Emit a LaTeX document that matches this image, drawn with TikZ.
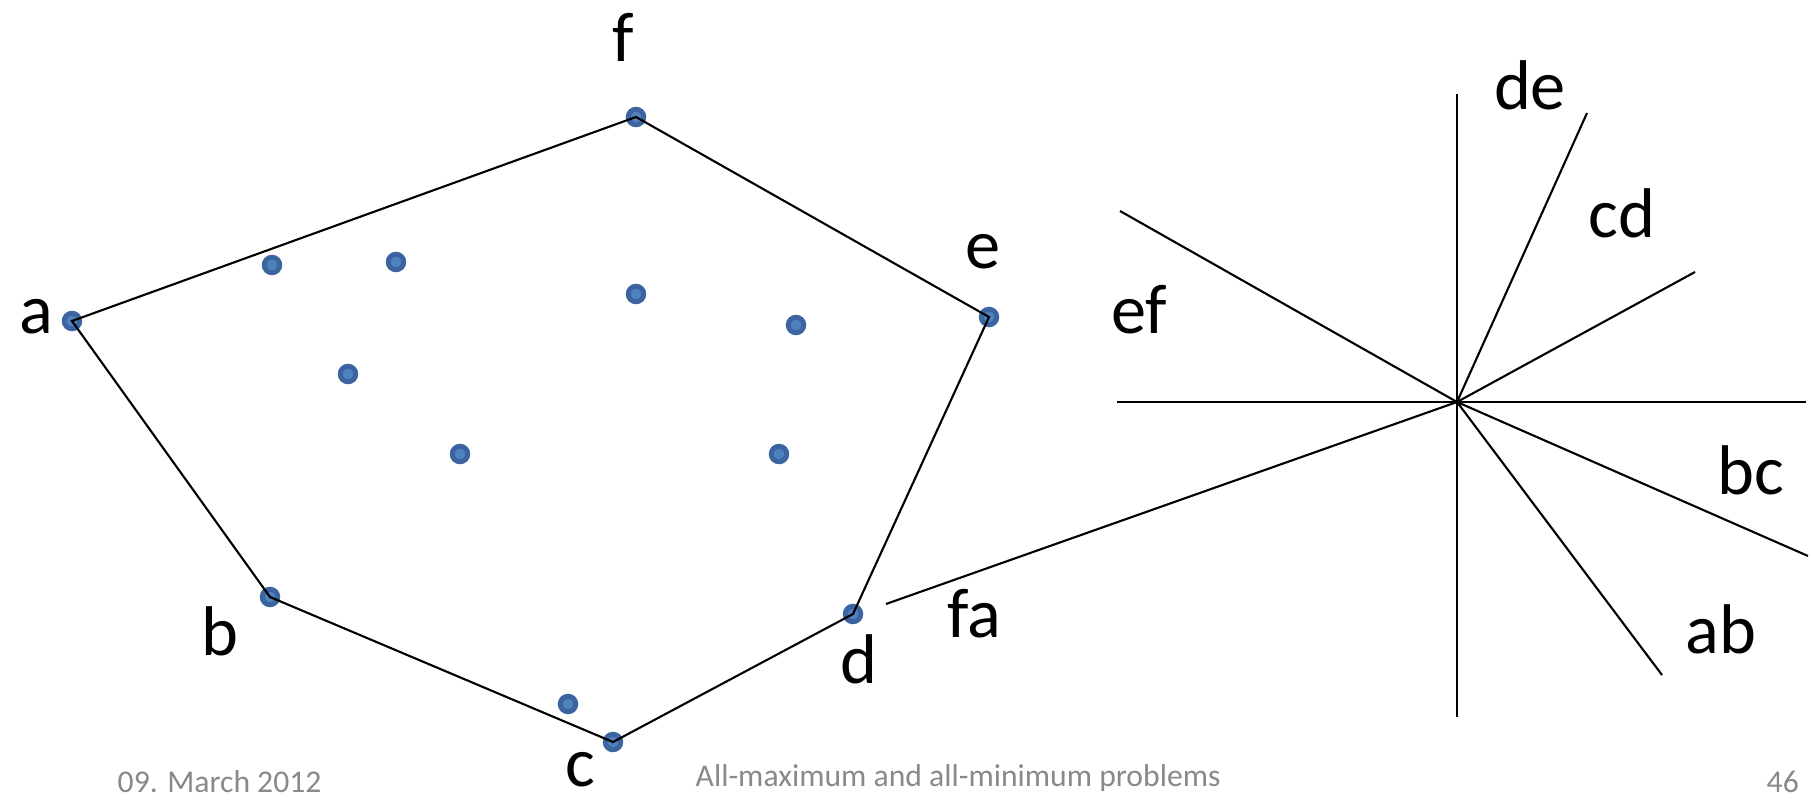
\documentclass[tikz,border=0pt]{standalone}
\usepackage{fontspec}
\setmainfont{Carlito}
\usetikzlibrary{positioning}
\definecolor{dotblue}{HTML}{4F81BD}
\definecolor{dotrim}{HTML}{3B64A0}
\definecolor{footgray}{HTML}{898989}

\begin{document}
\begin{tikzpicture}[x=0.01cm,y=-0.01cm,
  pt/.style={circle,fill=dotblue,draw=dotrim,line width=1.4pt,inner sep=0pt,minimum size=0.155cm},
  seg/.style={line width=0.6pt},
  lbl/.style={font=\fontsize{20}{24}\selectfont,anchor=base,inner sep=0pt},
  foot/.style={font=\fontsize{9}{11}\selectfont,text=footgray,anchor=base west,inner sep=0pt}]
  \useasboundingbox (0,0) rectangle (1812,800);
  % hull points and inner points
  \foreach \n/\x/\y in {a/72/321, b/270/597, c/613/742, d/853/614, e/989/317, f/636/117}
    \node[pt] (\n) at (\x,\y) {};
  \foreach \x/\y [count=\i] in {272/265, 396/262, 636/294, 796/325, 348/374, 460/454, 779/454, 568/704}
    \node[pt] (p\i) at (\x,\y) {};
  \draw[seg] (a.center) -- (f.center) -- (e.center) -- (d.center) -- (c.center) -- (b.center) -- cycle;
  % edge directions
  \coordinate (o) at (1457,402);
  \coordinate (vt) at (1457,94);
  \coordinate (vb) at (1457,717);
  \coordinate (hl) at (1117,402);
  \coordinate (hr) at (1806,402);
  \draw[seg] (vt) -- (vb);
  \draw[seg] (hl) -- (hr);
  \foreach \n/\x/\y in {ab/1662/675, bc/1808/556, cd/1695/272, de/1587/113, ef/1120/211, fa/886/604} {
    \coordinate (r\n) at (\x,\y);
    \draw[seg] (o) -- (r\n);
  }
  % labels
  \foreach \n/\x/\y in {f/623/61, a/36/333, e/983/268, b/220/655, d/859/683, c/580/786,
                        fa/974/637, de/1530/110, cd/1622/237, ef/1139/333, bc/1751/494, ab/1721/653}
    \node[lbl] (l\n) at (\x,\y) {\n};
  % footer
  \node[foot] (title) at (695,786) {All-maximum and all-minimum problems};
  \node[foot] (date) at (117,792) {09. March 2012};
  \node[foot] (page) at (1766,792) {46};
\end{tikzpicture}
\end{document}
